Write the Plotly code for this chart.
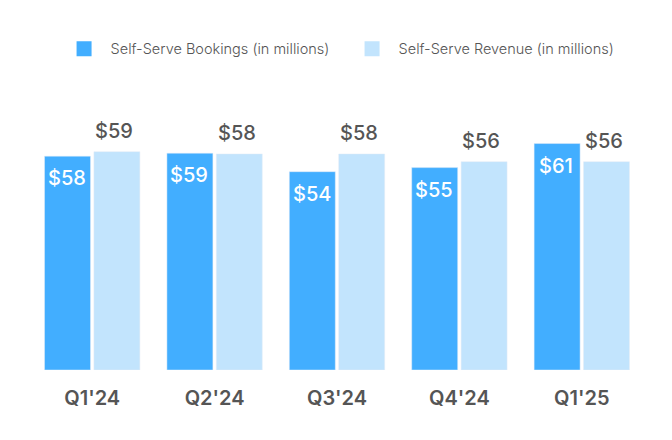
import plotly.graph_objects as go

quarters = ["Q1'24", "Q2'24", "Q3'24", "Q4'24", "Q1'25"]
bookings = [57.8, 58.6, 53.6, 54.7, 61.2]
revenue = [59.0, 58.4, 58.4, 56.3, 56.3]
bookings_labels = ["$58", "$59", "$54", "$55", "$61"]
revenue_labels = ["$59", "$58", "$58", "$56", "$56"]

blue = "#42AEFF"
light = "#C2E4FD"
grey = "#555555"

fig = go.Figure()
fig.add_bar(x=quarters, y=bookings, marker_color=blue, showlegend=False,
            hoverinfo="skip")
fig.add_bar(x=quarters, y=revenue, marker_color=light, showlegend=False,
            hoverinfo="skip")

# legend entries (bigger squares than the bar legend glyph)
fig.add_scatter(x=[None], y=[None], mode="markers", name="Self-Serve Bookings (in millions)",
                marker=dict(symbol="square", size=15, color=blue))
fig.add_scatter(x=[None], y=[None], mode="markers", name="Self-Serve Revenue (in millions)",
                marker=dict(symbol="square", size=15, color=light))

# value labels
for q, v, t in zip(quarters, bookings, bookings_labels):
    fig.add_annotation(x=q, y=v, text=t, showarrow=False, xshift=-25.5, yshift=-22,
                       yanchor="middle", font=dict(size=20, color="white", weight=500))
for q, v, t in zip(quarters, revenue, revenue_labels):
    fig.add_annotation(x=q, y=v, text=t, showarrow=False, xshift=22, yshift=21,
                       yanchor="middle", font=dict(size=20, color=grey, weight=500))

fig.update_layout(
    width=672, height=440,
    margin=dict(l=23, r=37, t=103, b=78),
    paper_bgcolor="white", plot_bgcolor="white",
    font=dict(family="Inter", color=grey),
    barmode="group", bargap=0.193, bargroupgap=0.069,
    legend=dict(orientation="h", x=0.514, xanchor="center", y=1.24, yanchor="middle",
                font=dict(size=14.5, color=grey, weight=300), entrywidth=230, itemwidth=43),
    xaxis=dict(showline=False, showgrid=False, ticks="outside", ticklen=10,
               tickcolor="rgba(0,0,0,0)", tickfont=dict(size=20, color=grey, weight=600)),
    yaxis=dict(range=[0, 70], visible=False),
)

fig.write_html("out.html")
